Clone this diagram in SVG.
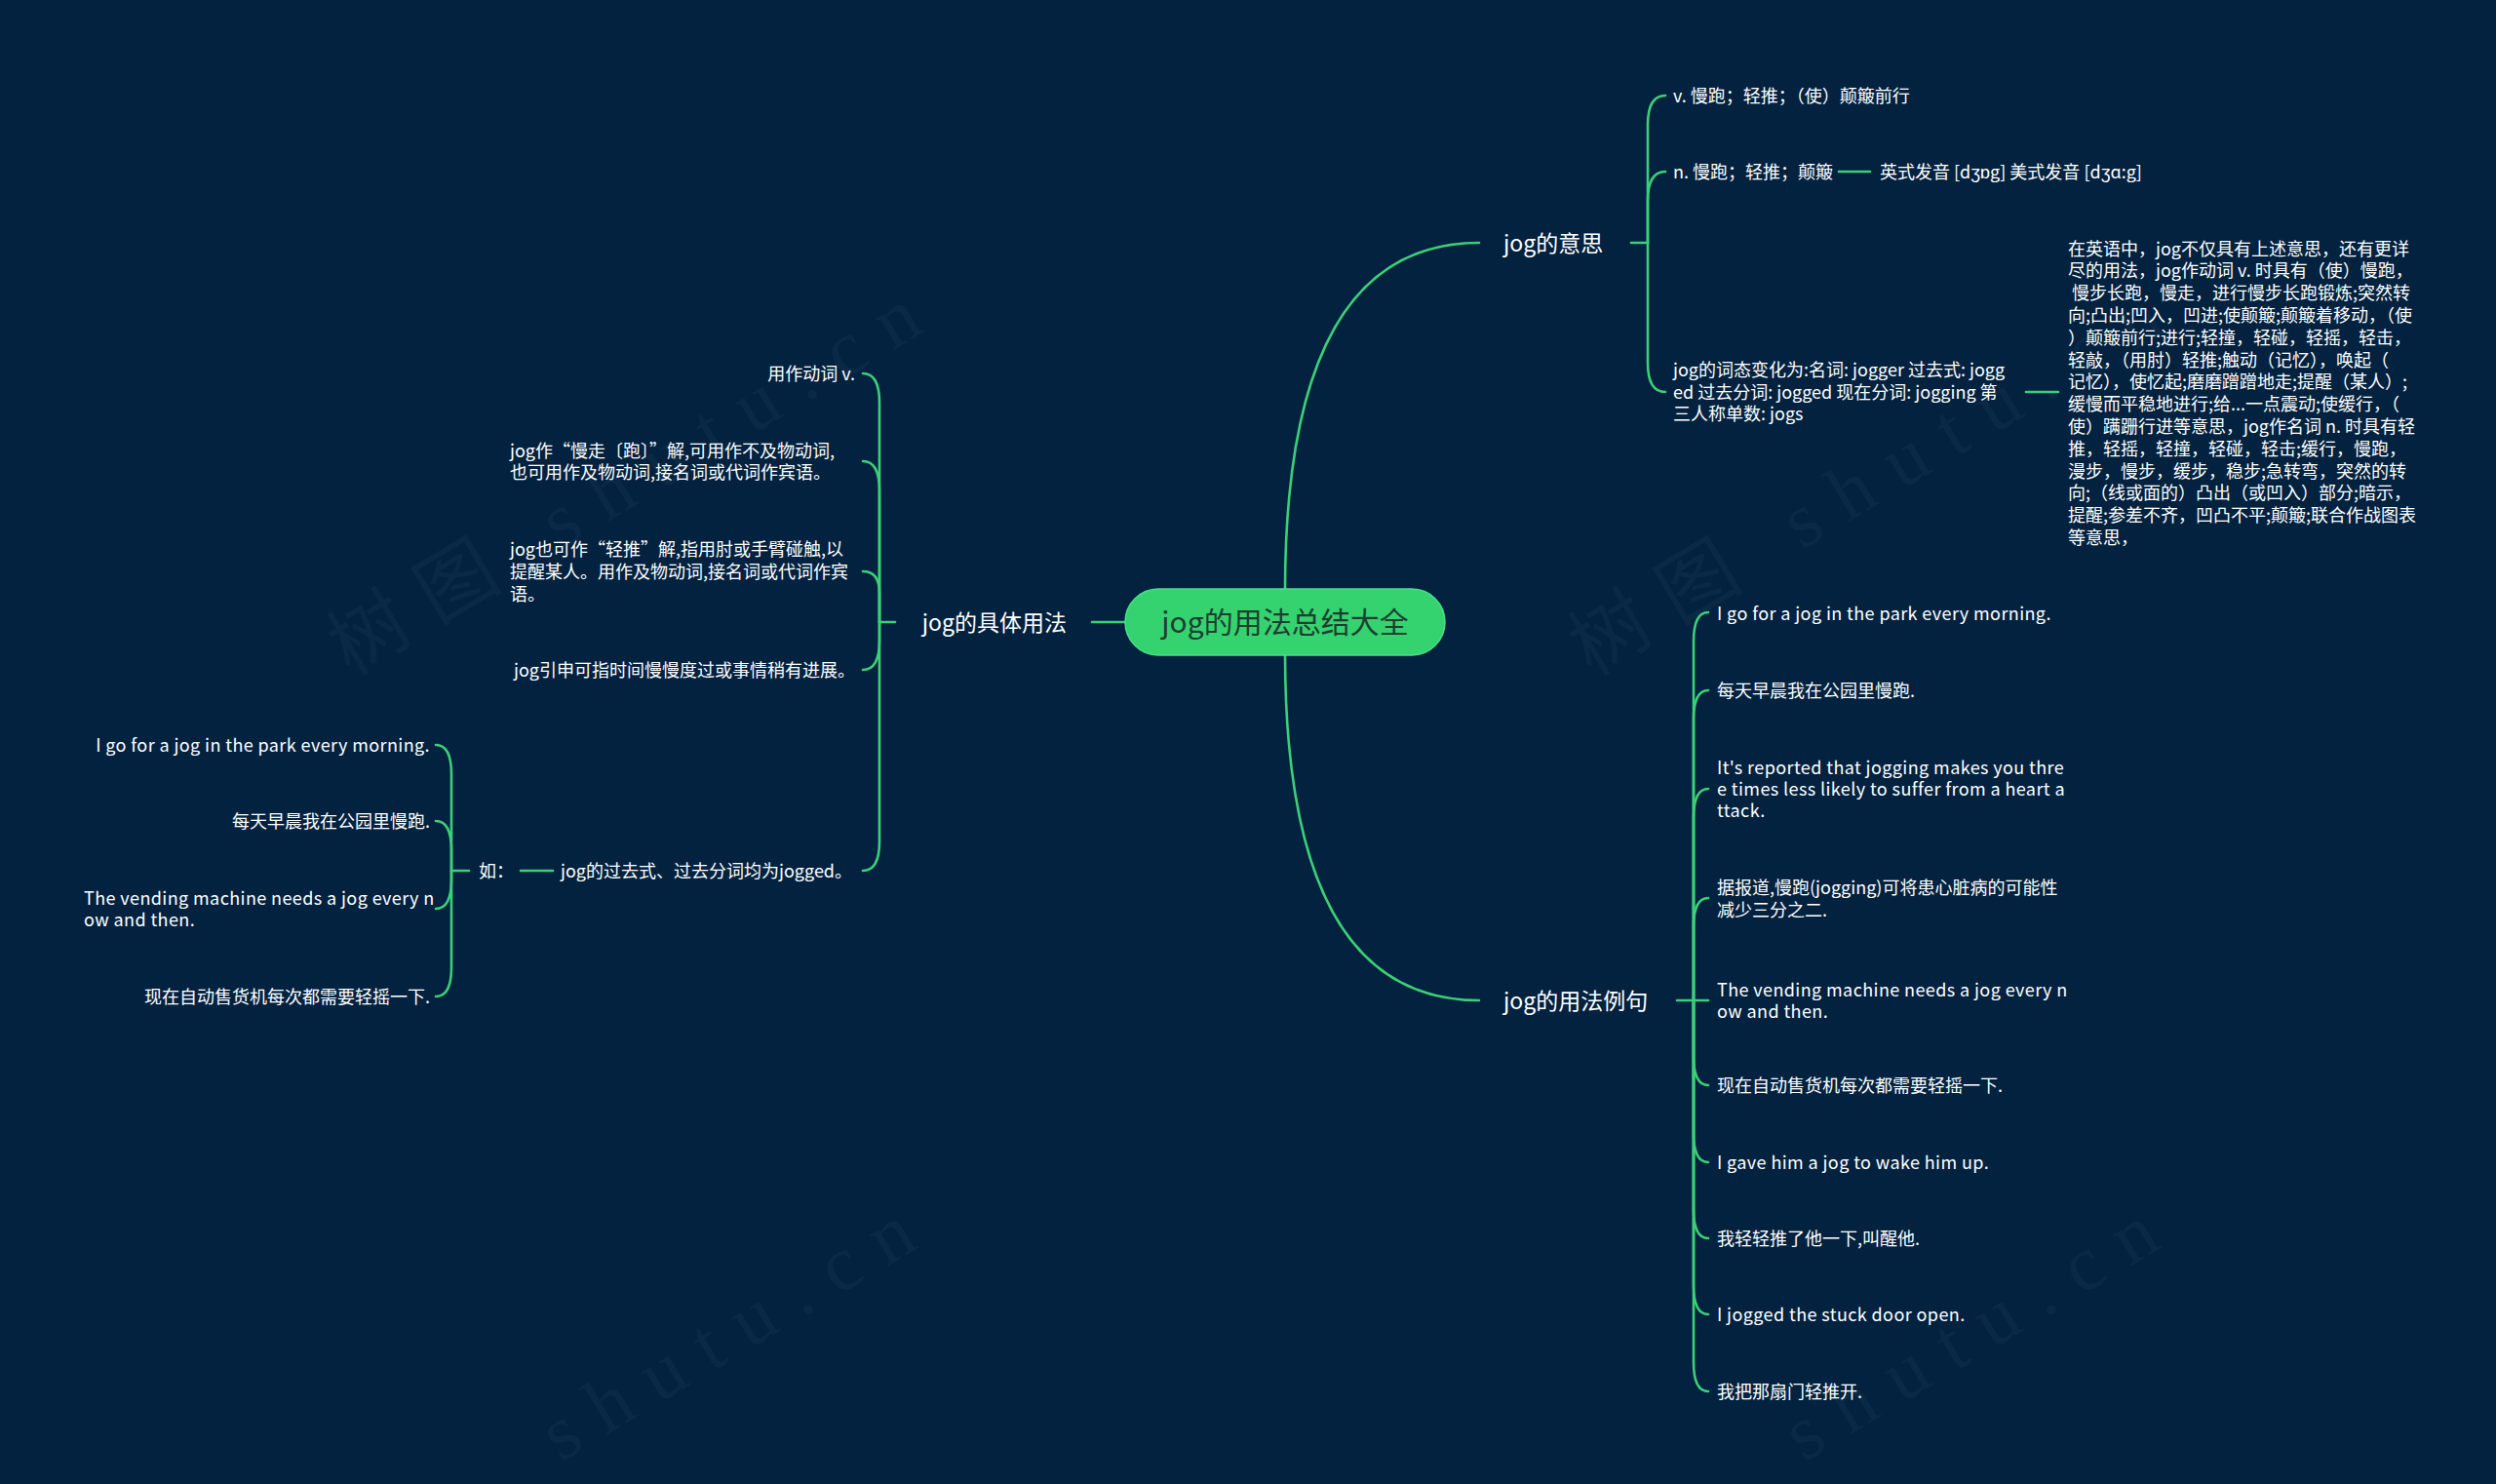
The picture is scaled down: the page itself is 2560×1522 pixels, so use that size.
<svg xmlns="http://www.w3.org/2000/svg" width="2560" height="1522" viewBox="0 0 2560 1522">
<style>
.bg{fill:#022240}
.wm{font-family:'Liberation Serif','Noto Sans CJK SC',serif;font-size:80px;fill:#ffffff;fill-opacity:0.035}
.c{fill:none;stroke:#3ccf78;stroke-width:2.6;stroke-linecap:round}
.t{font-family:'Noto Sans CJK SC','Microsoft YaHei',sans-serif;font-size:18px;fill:#ffffff}
.lat{letter-spacing:0.4px}
.l1{font-family:'Noto Sans CJK SC','Microsoft YaHei',sans-serif;font-size:23px;fill:#ffffff}
.r{font-family:'Noto Sans CJK SC','Microsoft YaHei',sans-serif;font-size:30px;fill:#1f3d2f}
.end{text-anchor:end}
</style>
<rect class="bg" x="0" y="0" width="2560" height="1522"/>
<g id="watermarks">
<text class="wm" x="359" y="694" transform="rotate(-31 359 694)" textLength="689" lengthAdjust="spacing">树图 shutu.cn</text>
<text class="wm" x="1632" y="694" transform="rotate(-31 1632 694)" textLength="689" lengthAdjust="spacing">树图 shutu.cn</text>
<text class="wm" x="575" y="1500" transform="rotate(-31 575 1500)" textLength="430" lengthAdjust="spacing">shutu.cn</text>
<text class="wm" x="1850" y="1500" transform="rotate(-31 1850 1500)" textLength="430" lengthAdjust="spacing">shutu.cn</text>
</g>
<g id="connectors">
<path class="c" d="M1318 606 Q1318 249 1517 249"/>
<path class="c" d="M1318 670 Q1318 1026 1517 1026"/>
<path class="c" d="M1154 638 L1120 638"/>
<path class="c" d="M1673 249 L1690 249"/>
<path class="c" d="M1690 249 L1690 128 Q1690 98 1708 98"/>
<path class="c" d="M1690 249 L1690 206 Q1690 176 1708 176"/>
<path class="c" d="M1690 249 L1690 372 Q1690 402 1708 402"/>
<path class="c" d="M1886 176 L1918 176"/>
<path class="c" d="M2078 402 L2111 402"/>
<path class="c" d="M1720 1026 L1737 1026"/>
<path class="c" d="M1737 1026 L1737 658 Q1737 628 1752 628"/>
<path class="c" d="M1737 1026 L1737 738 Q1737 708 1752 708"/>
<path class="c" d="M1737 1026 L1737 839 Q1737 809 1752 809"/>
<path class="c" d="M1737 1026 L1737 951 Q1737 921 1752 921"/>
<path class="c" d="M1737 1026 L1752 1026"/>
<path class="c" d="M1737 1026 L1737 1083 Q1737 1113 1752 1113"/>
<path class="c" d="M1737 1026 L1737 1162 Q1737 1192 1752 1192"/>
<path class="c" d="M1737 1026 L1737 1240 Q1737 1270 1752 1270"/>
<path class="c" d="M1737 1026 L1737 1318 Q1737 1348 1752 1348"/>
<path class="c" d="M1737 1026 L1737 1397 Q1737 1427 1752 1427"/>
<path class="c" d="M918 638 L902 638"/>
<path class="c" d="M902 638 L902 413 Q902 383 885 383"/>
<path class="c" d="M902 638 L902 503 Q902 473 885 473"/>
<path class="c" d="M902 638 L902 608 Q902 586 885 586"/>
<path class="c" d="M902 638 L902 657 Q902 687 885 687"/>
<path class="c" d="M902 638 L902 863 Q902 893 885 893"/>
<path class="c" d="M567 893 L534 893"/>
<path class="c" d="M481 893 L463 893"/>
<path class="c" d="M463 893 L463 794 Q463 764 447 764"/>
<path class="c" d="M463 893 L463 872 Q463 842 447 842"/>
<path class="c" d="M463 893 L463 902 Q463 932 447 932"/>
<path class="c" d="M463 893 L463 992 Q463 1022 447 1022"/>
</g>
<g id="root">
<rect x="1154" y="604" width="328" height="68" rx="34" fill="#34d36f" stroke="#4be08a" stroke-width="1.5"/>
<text class="r" x="1318" y="649" text-anchor="middle">jog的用法总结大全</text>
</g>
<g id="n-meaning">
<text class="l1" x="1542" y="257.5">jog的意思</text>
</g>
<g id="n-meaning-v"><text class="t" x="1716" y="104.5">v. 慢跑；轻推；（使）颠簸前行</text></g>
<g id="n-meaning-n"><text class="t" x="1716" y="182.5">n. 慢跑；轻推；颠簸</text></g>
<g id="n-phonetic"><text class="t" x="1928" y="182.5">英式发音 [dʒɒg] 美式发音 [dʒɑ:g]</text></g>
<g id="n-forms"><text class="t">
<tspan x="1716" y="385.5">jog的词态变化为:名词: jogger 过去式: jogg</tspan>
<tspan x="1716" y="408.5">ed 过去分词: jogged 现在分词: jogging 第</tspan>
<tspan x="1716" y="430.5">三人称单数: jogs</tspan>
</text></g>
<g id="n-detail"><text class="t">
<tspan x="2121" y="261.5">在英语中，jog不仅具有上述意思，还有更详</tspan>
<tspan x="2121" y="284.3">尽的用法，jog作动词 v. 时具有（使）慢跑，</tspan>
<tspan x="2121" y="307.1">&#160;慢步长跑，慢走，进行慢步长跑锻炼;突然转</tspan>
<tspan x="2121" y="329.9">向;凸出;凹入，凹进;使颠簸;颠簸着移动，（使</tspan>
<tspan x="2121" y="352.7">）颠簸前行;进行;轻撞，轻碰，轻摇，轻击，</tspan>
<tspan x="2121" y="375.5">轻敲，（用肘）轻推;触动（记忆），唤起（</tspan>
<tspan x="2121" y="398.3">记忆），使忆起;磨磨蹭蹭地走;提醒（某人）;</tspan>
<tspan x="2121" y="421.1">缓慢而平稳地进行;给...一点震动;使缓行，（</tspan>
<tspan x="2121" y="443.9">使）蹒跚行进等意思，jog作名词 n. 时具有轻</tspan>
<tspan x="2121" y="466.7">推，轻摇，轻撞，轻碰，轻击;缓行，慢跑，</tspan>
<tspan x="2121" y="489.5">漫步，慢步，缓步，稳步;急转弯，突然的转</tspan>
<tspan x="2121" y="512.3">向;（线或面的）凸出（或凹入）部分;暗示，</tspan>
<tspan x="2121" y="535.1">提醒;参差不齐，凹凸不平;颠簸;联合作战图表</tspan>
<tspan x="2121" y="557.9">等意思，</tspan>
</text></g>
<g id="n-examples">
<text class="l1" x="1542" y="1034.5">jog的用法例句</text>
</g>
<g id="e1"><text class="t lat" x="1761" y="635.5">I go for a jog in the park every morning.</text></g>
<g id="e2"><text class="t" x="1761" y="714.5">每天早晨我在公园里慢跑.</text></g>
<g id="e3"><text class="t lat">
<tspan x="1761" y="793.5">It's reported that jogging makes you thre</tspan>
<tspan x="1761" y="815.5">e times less likely to suffer from a heart a</tspan>
<tspan x="1761" y="837.5">ttack.</tspan>
</text></g>
<g id="e4"><text class="t">
<tspan x="1761" y="916.5">据报道,慢跑(jogging)可将患心脏病的可能性</tspan>
<tspan x="1761" y="939.5">减少三分之二.</tspan>
</text></g>
<g id="e5"><text class="t lat">
<tspan x="1761" y="1021.5">The vending machine needs a jog every n</tspan>
<tspan x="1761" y="1043.5">ow and then.</tspan>
</text></g>
<g id="e6"><text class="t" x="1761" y="1119.5">现在自动售货机每次都需要轻摇一下.</text></g>
<g id="e7"><text class="t lat" x="1761" y="1198.5">I gave him a jog to wake him up.</text></g>
<g id="e8"><text class="t" x="1761" y="1276.5">我轻轻推了他一下,叫醒他.</text></g>
<g id="e9"><text class="t lat" x="1761" y="1354.5">I jogged the stuck door open.</text></g>
<g id="e10"><text class="t" x="1761" y="1433.5">我把那扇门轻推开.</text></g>
<g id="n-usage">
<text class="l1 end" x="1094" y="646.5">jog的具体用法</text>
</g>
<g id="u1"><text class="t end" x="877" y="389.5">用作动词 v.</text></g>
<g id="u2"><text class="t">
<tspan x="523" y="468.5">jog作“慢走〔跑〕”解,可用作不及物动词,</tspan>
<tspan x="523" y="491">也可用作及物动词,接名词或代词作宾语。</tspan>
</text></g>
<g id="u3"><text class="t">
<tspan x="523" y="569.5">jog也可作“轻推”解,指用肘或手臂碰触,以</tspan>
<tspan x="523" y="592.5">提醒某人。用作及物动词,接名词或代词作宾</tspan>
<tspan x="523" y="615.5">语。</tspan>
</text></g>
<g id="u4"><text class="t end" x="877" y="693.5">jog引申可指时间慢慢度过或事情稍有进展。</text></g>
<g id="u5"><text class="t" x="575" y="899.5">jog的过去式、过去分词均为jogged。</text></g>
<g id="u6"><text class="t" x="491" y="899.5">如：</text></g>
<g id="x1"><text class="t end lat" x="441" y="770.5">I go for a jog in the park every morning.</text></g>
<g id="x2"><text class="t end" x="441" y="848.5">每天早晨我在公园里慢跑.</text></g>
<g id="x3"><text class="t lat">
<tspan x="86" y="927.5">The vending machine needs a jog every n</tspan>
<tspan x="86" y="949.5">ow and then.</tspan>
</text></g>
<g id="x4"><text class="t end" x="441" y="1028.5">现在自动售货机每次都需要轻摇一下.</text></g>
</svg>
